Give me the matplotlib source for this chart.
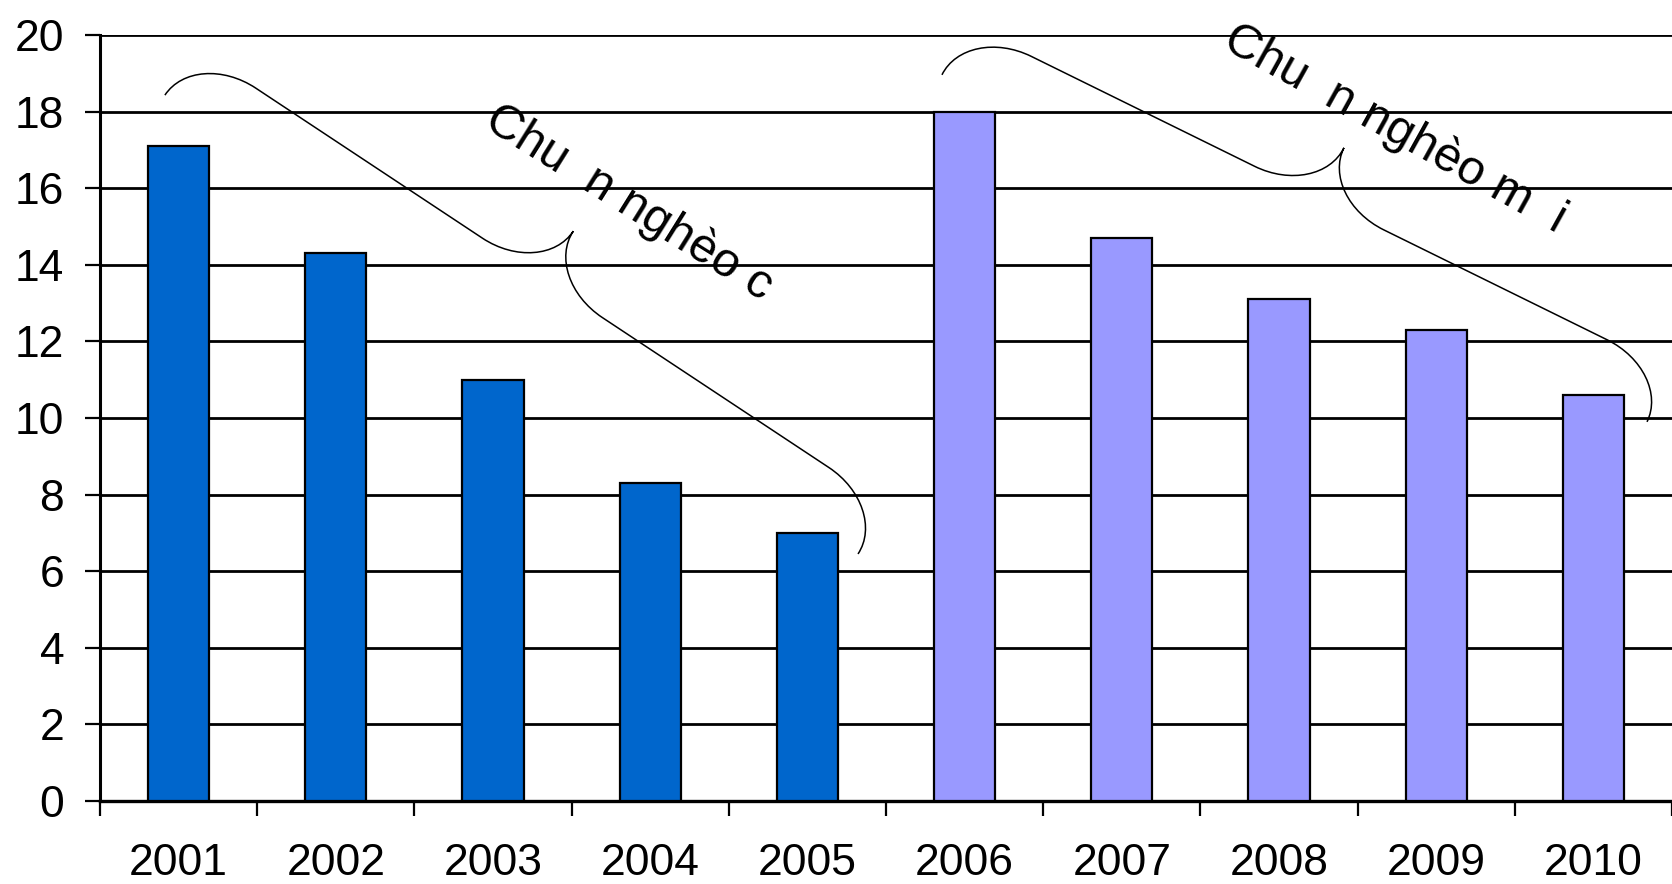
import numpy as np
import matplotlib
matplotlib.use("Agg")
import matplotlib.pyplot as plt
from matplotlib.path import Path
from matplotlib.patches import PathPatch

# du lieu doc tu hinh
years = ['2001', '2002', '2003', '2004', '2005', '2006', '2007', '2008', '2009', '2010']
rate_old = [17.1, 14.3, 11.0, 8.3, 7.0]      # chuan ngheo cu, 2001-2005
rate_new = [18.0, 14.7, 13.1, 12.3, 10.6]    # chuan ngheo moi, 2006-2010
labels = ['Chu  n nghèo c', 'Chu  n nghèo m  i']

plt.rcParams['font.family'] = ['Liberation Sans', 'DejaVu Sans']

fig = plt.figure(figsize=(16.72, 8.84), dpi=100)
ax = fig.add_axes([0.0598, 0.0939, 0.9402, 0.8665])

x = np.arange(len(years))
ax.bar(x[:5], rate_old, width=0.39, color='#0066CC', edgecolor='black', linewidth=1.6, zorder=3)
ax.bar(x[5:], rate_new, width=0.39, color='#9999FF', edgecolor='black', linewidth=1.6, zorder=3)

ax.set_xlim(-0.5, 9.5)
ax.set_ylim(0, 20)
ax.set_yticks(range(0, 21, 2))
ax.yaxis.grid(True, color='black', linewidth=2)
ax.set_axisbelow(True)

for s in ['top', 'right']:
    ax.spines[s].set_visible(False)
ax.spines['left'].set_linewidth(2.2)
ax.spines['bottom'].set_linewidth(2.4)

ax.set_xticks(np.arange(-0.5, 10, 1))
ax.set_xticklabels([])
ax.set_xticks(x, minor=True)
ax.set_xticklabels(years, minor=True)
ax.tick_params(axis='x', which='major', length=10.8, width=1.6, direction='out')
ax.tick_params(axis='x', which='minor', length=0, pad=30, labelsize=32)
ax.tick_params(axis='y', length=10.8, width=1.6, pad=15, labelsize=32)


def brace(p0, p1, h=56, r=72):
    # dau ngoac nhon giua hai diem (toa do du lieu), ve trong khong gian pixel
    h = h * fig.dpi / 100
    r = r * fig.dpi / 100
    a = ax.transData.transform(p0)
    b = ax.transData.transform(p1)
    d = b - a
    L = np.hypot(*d)
    u = d / L
    n = np.array([-u[1], u[0]])
    k = 0.552
    m = L / 2
    loc = [(0, 0), (0, k * h), (r - k * r, h), (r, h),
           (m - r, h),
           (m - r + k * r, h), (m, 2 * h - k * h), (m, 2 * h),
           (m, 2 * h - k * h), (m + r - k * r, h), (m + r, h),
           (L - r, h),
           (L - r + k * r, h), (L, k * h), (L, 0)]
    codes = [Path.MOVETO] + [Path.CURVE4] * 3 + [Path.LINETO] + [Path.CURVE4] * 6 + \
            [Path.LINETO] + [Path.CURVE4] * 3
    pts = np.array([a + p * u + q * n for p, q in loc])
    pts = ax.transData.inverted().transform(pts)
    ax.add_patch(PathPatch(Path(pts, codes), fill=False, edgecolor='black',
                           linewidth=1.1, clip_on=False, zorder=4))


brace((-0.087, 18.43), (4.322, 6.45))
brace((4.856, 18.96), (9.341, 9.90))

ax.text(1.93, 17.62, labels[0], fontsize=35, rotation=-32, rotation_mode='anchor',
        ha='left', va='baseline', zorder=5)
ax.text(6.63, 19.69, labels[1], fontsize=35, rotation=-29, rotation_mode='anchor',
        ha='left', va='baseline', zorder=5, clip_on=False)

fig.savefig('out.png', dpi=100)
